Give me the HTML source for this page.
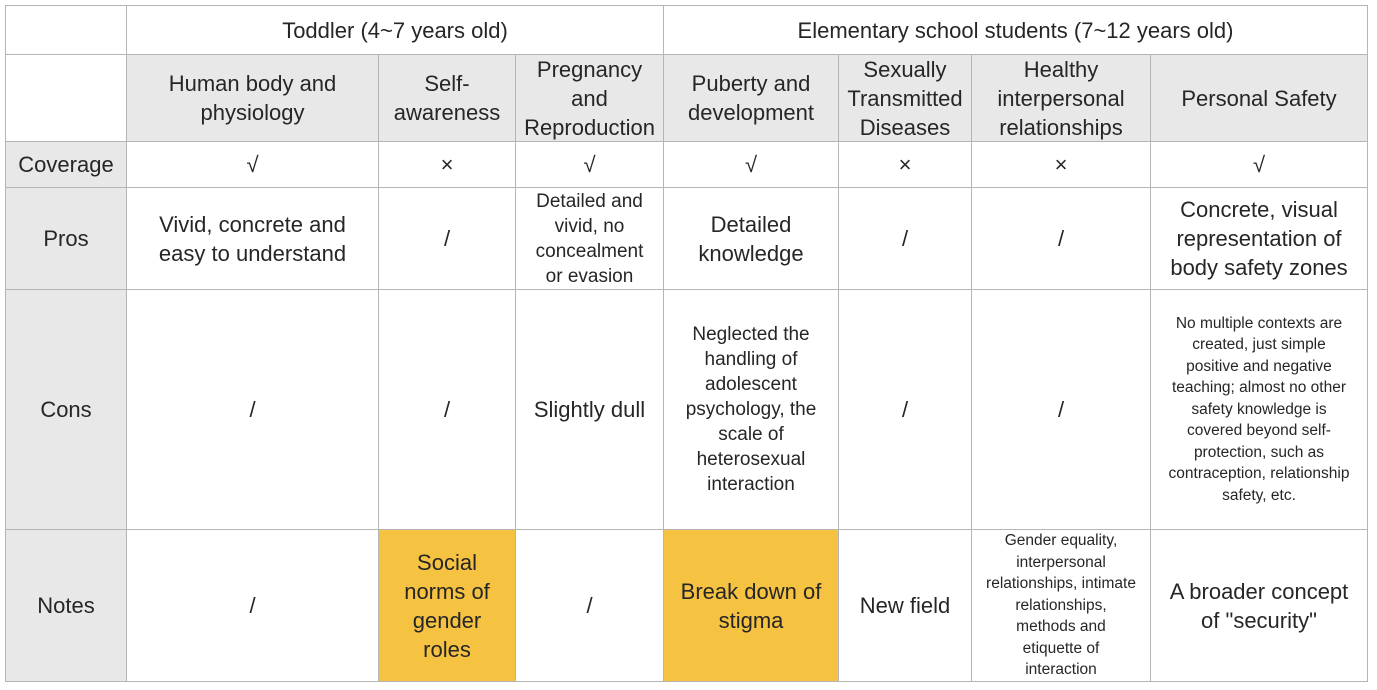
<!DOCTYPE html>
<html><head><meta charset="utf-8"><style>
body{margin:0;width:1377px;height:690px;background:#fff;position:relative;font-family:"Liberation Sans",sans-serif;color:#262626;overflow:hidden}
.c{position:absolute;box-sizing:border-box;border:1px solid #b5b5b5;display:flex;align-items:center;justify-content:center;text-align:center;font-size:22px;line-height:29px;margin:-1px 0 0 -1px;padding:0;white-space:nowrap}
.g{background:#e8e8e8}.y{background:#f5c242}
.s{font-size:15.5px;line-height:21.5px}.m{font-size:19px;line-height:25px}
</style></head><body>
<div id="t"></div>
<script>
const xs=[6,127,379,516,664,839,972,1151,1368];
const ys=[6,55,142,188,290,530,682];
const cells=[
[0,0,1,'',''],[0,1,4,'','Toddler (4~7 years old)'],[0,4,8,'','Elementary school students (7~12 years old)'],
[1,0,1,'',''],[1,1,2,'g','Human body and<br>physiology'],[1,2,3,'g','Self-<br>awareness'],[1,3,4,'g','Pregnancy<br>and<br>Reproduction'],[1,4,5,'g','Puberty and<br>development'],[1,5,6,'g','Sexually<br>Transmitted<br>Diseases'],[1,6,7,'g','Healthy<br>interpersonal<br>relationships'],[1,7,8,'g','Personal Safety'],
[2,0,1,'g','Coverage'],[2,1,2,'','√'],[2,2,3,'','×'],[2,3,4,'','√'],[2,4,5,'','√'],[2,5,6,'','×'],[2,6,7,'','×'],[2,7,8,'','√'],
[3,0,1,'g','Pros'],[3,1,2,'','Vivid, concrete and<br>easy to understand'],[3,2,3,'','/'],[3,3,4,'m','Detailed and<br>vivid, no<br>concealment<br>or evasion'],[3,4,5,'','Detailed<br>knowledge'],[3,5,6,'','/'],[3,6,7,'','/'],[3,7,8,'','Concrete, visual<br>representation of<br>body safety zones'],
[4,0,1,'g','Cons'],[4,1,2,'','/'],[4,2,3,'','/'],[4,3,4,'','Slightly dull'],[4,4,5,'m','Neglected the<br>handling of<br>adolescent<br>psychology, the<br>scale of<br>heterosexual<br>interaction'],[4,5,6,'','/'],[4,6,7,'','/'],[4,7,8,'s','No multiple contexts are<br>created, just simple<br>positive and negative<br>teaching; almost no other<br>safety knowledge is<br>covered beyond self-<br>protection, such as<br>contraception, relationship<br>safety, etc.'],
[5,0,1,'g','Notes'],[5,1,2,'','/'],[5,2,3,'y','Social<br>norms of<br>gender<br>roles'],[5,3,4,'','/'],[5,4,5,'y','Break down of<br>stigma'],[5,5,6,'','New field'],[5,6,7,'s','Gender equality,<br>interpersonal<br>relationships, intimate<br>relationships,<br>methods and<br>etiquette of<br>interaction'],[5,7,8,'','A broader concept<br>of "security"']
];
const t=document.getElementById('t');
cells.forEach(([r,a,b,cl,txt],i)=>{
 const d=document.createElement('div');
 d.className='c '+cl;
 d.style.left=xs[a]+'px';d.style.top=ys[r]+'px';
 d.style.width=(xs[b]-xs[a]+1)+'px';d.style.height=(ys[r+1]-ys[r]+1)+'px';
 d.innerHTML=txt;
 
 
 t.appendChild(d);
});
</script>
</body></html>
